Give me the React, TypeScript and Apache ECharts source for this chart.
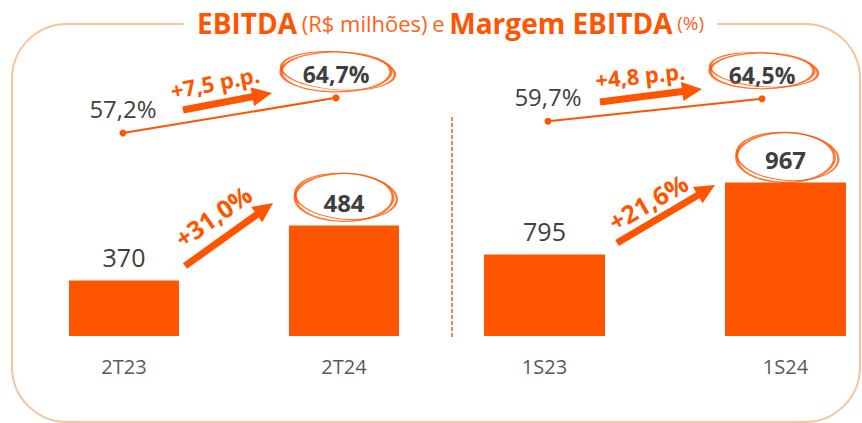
import React, { useEffect, useRef } from "react";
import * as echarts from "echarts";

// ---- data ----
const periodsQ = ["2T23", "2T24"];
const ebitdaQ = [370, 484];
const marginQ = [57.2, 64.7];

const periodsS = ["1S23", "1S24"];
const ebitdaS = [795, 967];
const marginS = [59.7, 64.5];

const growthLabels = ["+31,0%", "+21,6%"];
const ppLabels = ["+7,5 p.p.", "+4,8 p.p."];

const ORANGE = "#FF5500";
const DARK = "#3F3F3F";
const FONT = "Open Sans";

const pct = (v: number) => v.toFixed(1).replace(".", ",") + "%";

function arrow(x1: number, y1: number, x2: number, y2: number, sw = 7, hw = 19, hl = 20) {
  const dx = x2 - x1, dy = y2 - y1;
  const L = Math.hypot(dx, dy);
  const ux = dx / L, uy = dy / L;
  const nx = -uy, ny = ux;
  const bx = x2 - ux * hl, by = y2 - uy * hl;
  const pts = [
    [x1 + (nx * sw) / 2, y1 + (ny * sw) / 2],
    [bx + (nx * sw) / 2, by + (ny * sw) / 2],
    [bx + (nx * hw) / 2, by + (ny * hw) / 2],
    [x2, y2],
    [bx - (nx * hw) / 2, by - (ny * hw) / 2],
    [bx - (nx * sw) / 2, by - (ny * sw) / 2],
    [x1 - (nx * sw) / 2, y1 - (ny * sw) / 2],
  ];
  return { type: "polygon", shape: { points: pts }, style: { fill: ORANGE }, z: 10 };
}

function rotText(text: string, x: number, y: number, deg: number, size: number) {
  return {
    type: "text",
    x,
    y,
    rotation: (deg * Math.PI) / 180,
    z: 10,
    style: {
      text,
      fill: ORANGE,
      font: `bold ${size}px "${FONT}"`,
      textAlign: "center",
      textVerticalAlign: "middle",
    },
  };
}

function ellipseSeries(xi: number, yi: number, data: any[], size: number[], offset: number[]) {
  const base = {
    type: "scatter",
    xAxisIndex: xi,
    yAxisIndex: yi,
    data,
    symbol: "circle",
    silent: true,
    clip: false,
    z: 5,
    itemStyle: { color: "rgba(0,0,0,0)", borderColor: ORANGE, borderWidth: 2 },
  };
  return [
    { ...base, symbolSize: size, symbolOffset: offset },
    {
      ...base,
      symbolSize: [size[0] + 4, size[1] - 2],
      symbolOffset: [offset[0] + 2, offset[1] - 1],
      symbolRotate: -4,
      itemStyle: { ...base.itemStyle, borderWidth: 1.5 },
    },
  ];
}

export default function App() {
  const ref = useRef<HTMLDivElement>(null);
  useEffect(() => {
    document.body.style.margin = "0";
    const chart = echarts.init(ref.current!, null, { renderer: "svg" });
    const axisLabel = { fontFamily: FONT, fontSize: 20, color: "#595959", margin: 20 };
    const valueLabel = {
      show: true,
      position: "top",
      distance: 11,
      fontFamily: FONT,
      fontSize: 25,
      color: DARK,
    };
    const lineLabel = {
      show: true,
      position: "top",
      distance: 9,
      fontFamily: FONT,
      fontSize: 24,
      color: DARK,
      formatter: (p: any) => pct(p.value[1]),
    };
    const mkLine = (idx: number, vals: number[]) => ({
      type: "line",
      xAxisIndex: idx,
      yAxisIndex: idx,
      data: vals.map((v, i) => ({
        value: [i, v],
        label: i === 1 ? { fontWeight: "bold", fontSize: 23 } : {},
      })),
      symbol: "circle",
      symbolSize: 7,
      clip: false,
      lineStyle: { color: ORANGE, width: 2 },
      itemStyle: { color: ORANGE },
      label: lineLabel,
      z: 4,
    });
    const catAxis = (gi: number, data: string[]) => ({
      gridIndex: gi,
      type: "category",
      data,
      axisLine: { show: false },
      axisTick: { show: false },
      splitLine: { show: false },
      axisLabel,
    });
    const g = (left: number, top: number, width: number, height: number) => ({
      left,
      top,
      width,
      height,
      outerBoundsMode: "none",
      containLabel: false,
    });

    chart.setOption({
      animation: false,
      title: {
        text: "{b|EBITDA} {n|(R$ milhões)} {n|e} {b|Margem EBITDA} {s|(%)}",
        left: 184,
        top: 6,
        padding: [0, 13],
        backgroundColor: "#ffffff",
        textStyle: {
          fontFamily: FONT,
          fontSize: 18,
          fontWeight: "normal",
          color: ORANGE,
          rich: {
            b: { fontFamily: FONT, fontSize: 28, fontWeight: "bold", color: ORANGE, lineHeight: 34 },
            n: { fontFamily: FONT, fontSize: 22, fontWeight: "normal", color: "#FF6218", lineHeight: 34 },
            s: { fontFamily: FONT, fontSize: 19, fontWeight: "normal", color: "#FF6218", lineHeight: 34 },
          },
        },
      },
      grid: [
        g(14, 80, 440, 256),
        g(424, 80, 482, 256),
        g(123, 59, 213, 103),
        g(548, 59, 214, 103),
      ],
      xAxis: [
        catAxis(0, periodsQ),
        catAxis(1, periodsS),
        { gridIndex: 2, type: "value", min: 0, max: 1, show: false },
        { gridIndex: 3, type: "value", min: 0, max: 1, show: false },
      ],
      yAxis: [
        { gridIndex: 0, type: "value", min: 255, max: 785, show: false },
        { gridIndex: 1, type: "value", min: 600, max: 1212, show: false },
        { gridIndex: 2, type: "value", min: 51, max: 73, show: false },
        { gridIndex: 3, type: "value", min: 51, max: 73, show: false },
      ],
      series: [
        {
          type: "bar",
          xAxisIndex: 0,
          yAxisIndex: 0,
          barWidth: 110,
          itemStyle: { color: ORANGE },
          data: ebitdaQ.map((v, i) => ({ value: v, label: i === 1 ? { fontWeight: "bold", fontSize: 24 } : {} })),
          label: valueLabel,
        },
        {
          type: "bar",
          xAxisIndex: 1,
          yAxisIndex: 1,
          barWidth: 121,
          itemStyle: { color: ORANGE },
          data: ebitdaS.map((v, i) => ({ value: v, label: i === 1 ? { fontWeight: "bold", fontSize: 24 } : {} })),
          label: valueLabel,
        },
        mkLine(2, marginQ),
        mkLine(3, marginS),
        ...ellipseSeries(0, 0, [[1, ebitdaQ[1]]], [98, 48], [0, -28]),
        ...ellipseSeries(1, 1, [[1, ebitdaS[1]]], [98, 50], [0, -25]),
        ...ellipseSeries(2, 2, [[1, marginQ[1]]], [110, 40], [0, -26]),
        ...ellipseSeries(3, 3, [[1, marginS[1]]], [104, 36], [0, -28]),
      ],
      graphic: [
        {
          type: "rect",
          z: -1,
          shape: { x: 12, y: 24, width: 848, height: 398, r: 55 },
          style: { fill: "none", stroke: "#F8C29C", lineWidth: 2 },
        },
        {
          type: "line",
          shape: { x1: 452, y1: 117, x2: 452, y2: 337 },
          style: { stroke: "#EE8A4E", lineWidth: 2, lineDash: [4, 2] },
        },
        arrow(183, 110, 272, 93),
        arrow(600, 102, 702, 89),
        arrow(185, 266, 273, 203),
        arrow(617, 243, 715, 185),
        rotText(ppLabels[0], 215, 82, 11, 22),
        rotText(ppLabels[1], 640, 75, 6, 22),
        rotText(growthLabels[0], 213, 216, 35, 25),
        rotText(growthLabels[1], 648, 202, 30, 25),
      ],
    });
    return () => chart.dispose();
  }, []);
  return <div ref={ref} style={{ width: 862, height: 423 }} />;
}
